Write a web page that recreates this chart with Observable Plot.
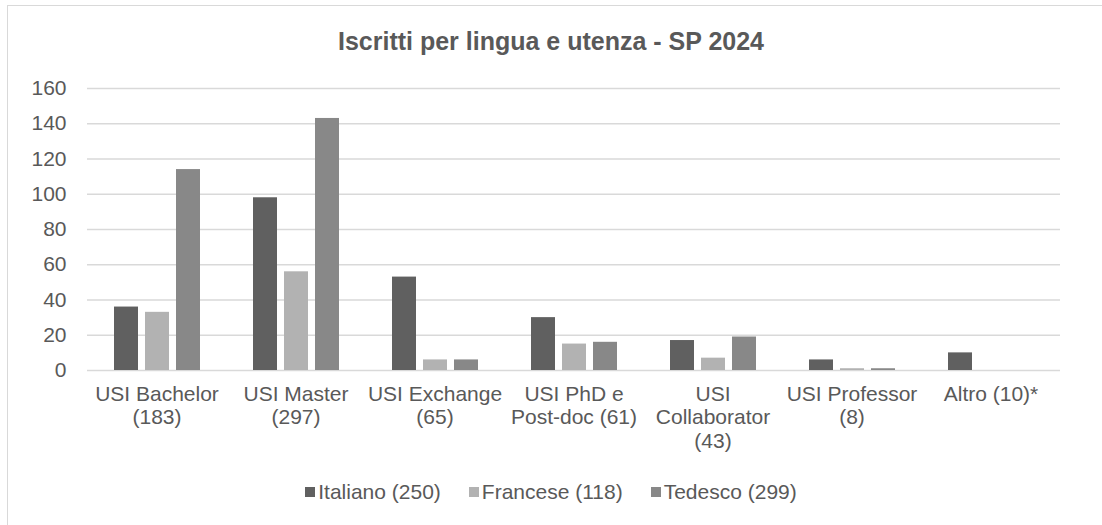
<!DOCTYPE html>
<html>
<head>
<meta charset="utf-8">
<script src="https://cdn.jsdelivr.net/npm/d3@7"></script>
<script src="https://cdn.jsdelivr.net/npm/@observablehq/plot@0.6"></script>
<style>
  html, body { margin: 0; padding: 0; background: #fff; }
  #wrap { position: relative; width: 1102px; height: 525px; overflow: hidden; background: #fff;
          font-family: "Liberation Sans", Arial, sans-serif; color: #595959; }
  #frame { position: absolute; left: 7px; top: 5px; width: 1200px; height: 700px;
           border: 1.5px solid #d9d9d9; box-sizing: border-box; }
  #title { position: absolute; top: 26px; left: 0; width: 1102px; text-align: center;
           font-weight: bold; font-size: 25px; line-height: 30px; }
  #chart { position: absolute; left: 0; top: 0; }
  #legend { position: absolute; top: 479px; left: 0; width: 1102px; display: flex;
            justify-content: center; gap: 28px; font-size: 21px; line-height: 26px; }
  .item { display: flex; align-items: center; gap: 3px; }
  .sw { width: 10px; height: 10px; display: inline-block; }
</style>
</head>
<body>
<div id="wrap">
  <div id="frame"></div>
  <div id="chart"></div>
  <div id="title"></div>
  <div id="legend"></div>
</div>
<script>
const titleText = "Iscritti per lingua e utenza - SP 2024";
const categories = ["USI Bachelor", "USI Master", "USI Exchange", "USI PhD e Post-doc", "USI Collaborator", "USI Professor", "Altro"];
const categoryLabels = ["USI Bachelor\n(183)", "USI Master\n(297)", "USI Exchange\n(65)", "USI PhD e\nPost-doc (61)", "USI\nCollaborator\n(43)", "USI Professor\n(8)", "Altro (10)*"];
const series = ["Italiano (250)", "Francese (118)", "Tedesco (299)"];
const colors = ["#606060", "#b2b2b2", "#888888"];
const italiano = [36, 98, 53, 30, 17, 6, 10];
const francese = [33, 56, 6, 15, 7, 1, 0];
const tedesco = [114, 143, 6, 16, 19, 1, 0];
const yTicks = [0, 20, 40, 60, 80, 100, 120, 140, 160];

const values = [italiano, francese, tedesco];
const data = [];
categories.forEach((c, i) => {
  series.forEach((s, j) => data.push({category: c, series: s, value: values[j][i]}));
});
const labelOf = new Map(categories.map((c, i) => [c, categoryLabels[i]]));

document.getElementById("title").textContent = titleText;

const chart = Plot.plot({
  width: 1102,
  height: 470,
  marginLeft: 85,
  marginRight: 40,
  marginTop: 88,
  marginBottom: 100,
  style: {fontFamily: "Liberation Sans, Arial, sans-serif", fontSize: "21px", color: "#595959", background: "transparent"},
  fx: {domain: categories, paddingInner: 0, paddingOuter: 0, label: null},
  x: {domain: series, paddingInner: 0.233, paddingOuter: 0.85, axis: null},
  y: {domain: [0, 160], label: null},
  color: {domain: series, range: colors},
  marks: [
    Plot.gridY(yTicks, {stroke: "#d9d9d9", strokeOpacity: 1, strokeWidth: 1.5}),
    Plot.axisY(yTicks, {tickSize: 0, tickPadding: 21, fontSize: 21, fill: "#595959", label: null}),
    Plot.axisFx({anchor: "bottom", tickSize: 0, tickPadding: 13, fontSize: 21, fill: "#595959",
                 lineHeight: 1.14, label: null, tickFormat: d => labelOf.get(d)}),
    Plot.barY(data, {fx: "category", x: "series", y: "value", fill: "series"})
  ]
});
document.getElementById("chart").appendChild(chart);

const legend = document.getElementById("legend");
series.forEach((s, j) => {
  const it = document.createElement("div");
  it.className = "item";
  const sw = document.createElement("span");
  sw.className = "sw";
  sw.style.background = colors[j];
  const t = document.createElement("span");
  t.textContent = s;
  it.appendChild(sw); it.appendChild(t);
  legend.appendChild(it);
});
</script>
</body>
</html>
